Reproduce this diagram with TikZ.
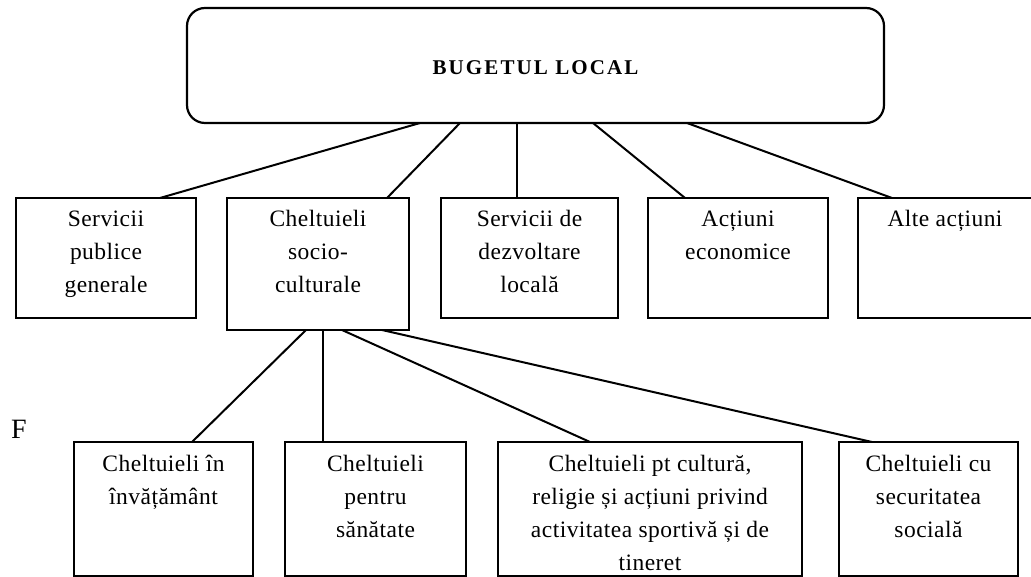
\documentclass[tikz,border=0pt]{standalone}
\usepackage{fontspec}
\setmainfont{Liberation Serif}
\newfontfamily\bodyfont[LetterSpace=2]{Liberation Serif}
\newfontfamily\titlefont[LetterSpace=10]{Liberation Serif}
\usetikzlibrary{calc}
\newcommand\boxtext[2]{\parbox[t]{#1}{\bodyfont\fontsize{23.5}{33}\selectfont\centering #2\par}}
\begin{document}
\begin{tikzpicture}[x=1pt,y=-1pt,
  box/.style={draw, line width=2.2pt, inner sep=0pt, outer sep=0pt, anchor=north west},
  txt/.style={anchor=base, inner sep=0pt, outer sep=0pt},
  conn/.style={line width=2pt}]
\useasboundingbox (0,0) rectangle (1031,577);
% top
\node[box, rounded corners=18pt, minimum width=697pt, minimum height=115pt] (top) at (187,8) {};
\node[txt] (toptxt) at (535.5,75) {\titlefont\bfseries\fontsize{21}{24}\selectfont BUGETUL LOCAL};
% second row
\node[box, minimum width=180pt, minimum height=120pt] (b1) at (16,198) {};
\node[box, minimum width=182pt, minimum height=132pt] (b2) at (227,198) {};
\node[box, minimum width=177pt, minimum height=120pt] (b3) at (441,198) {};
\node[box, minimum width=180pt, minimum height=120pt] (b4) at (648,198) {};
\node[box, minimum width=180pt, minimum height=120pt] (b5) at (858,198) {};
\node[txt] (t1) at ($(b1.north)+(0,29)$) {\boxtext{180pt}{Servicii\\publice\\generale}};
\node[txt] (t2) at ($(b2.north)+(0,29)$) {\boxtext{182pt}{Cheltuieli\\socio-\\culturale}};
\node[txt] (t3) at ($(b3.north)+(0,29)$) {\boxtext{177pt}{Servicii de\\dezvoltare\\locală}};
\node[txt] (t4) at ($(b4.north)+(0,29)$) {\boxtext{180pt}{Acțiuni\\economice}};
\node[txt] (t5) at (945,227) {\boxtext{174pt}{Alte acțiuni}};
% third row
\node[box, minimum width=179pt, minimum height=134pt] (c1) at (74,442) {};
\node[box, minimum width=181pt, minimum height=134pt] (c2) at (285,442) {};
\node[box, minimum width=304pt, minimum height=134pt] (c3) at (498,442) {};
\node[box, minimum width=179pt, minimum height=134pt] (c4) at (839,442) {};
\node[txt] (u1) at ($(c1.north)+(0,29)$) {\boxtext{179pt}{Cheltuieli în\\învățământ}};
\node[txt] (u2) at ($(c2.north)+(0,29)$) {\boxtext{181pt}{Cheltuieli\\pentru\\sănătate}};
\node[txt] (u3) at ($(c3.north)+(0,29)$) {\boxtext{304pt}{Cheltuieli pt cultură,\\religie și acțiuni privind\\activitatea sportivă și de\\tineret}};
\node[txt] (u4) at ($(c4.north)+(0,29)$) {\boxtext{179pt}{Cheltuieli cu\\securitatea\\socială}};
% F
\node[anchor=base west, inner sep=0pt] (f) at (11,438) {\fontsize{28}{32}\selectfont F};
% connectors
\draw[conn] ([xshift=233pt]top.south west) -- ([xshift=144pt]b1.north west);
\draw[conn] ([xshift=273pt]top.south west) -- ([xshift=160pt]b2.north west);
\draw[conn] ([xshift=330pt]top.south west) -- ([xshift=76pt]b3.north west);
\draw[conn] ([xshift=406pt]top.south west) -- ([xshift=37pt]b4.north west);
\draw[conn] ([xshift=500pt]top.south west) -- ([xshift=34pt]b5.north west);
\draw[conn] ([xshift=79pt]b2.south west) -- ([xshift=118pt]c1.north west);
\draw[conn] ([xshift=96pt]b2.south west) -- ([xshift=38pt]c2.north west);
\draw[conn] ([xshift=115pt]b2.south west) -- ([xshift=92pt]c3.north west);
\draw[conn] ([xshift=155pt]b2.south west) -- ([xshift=33pt]c4.north west);
\end{tikzpicture}
\end{document}
